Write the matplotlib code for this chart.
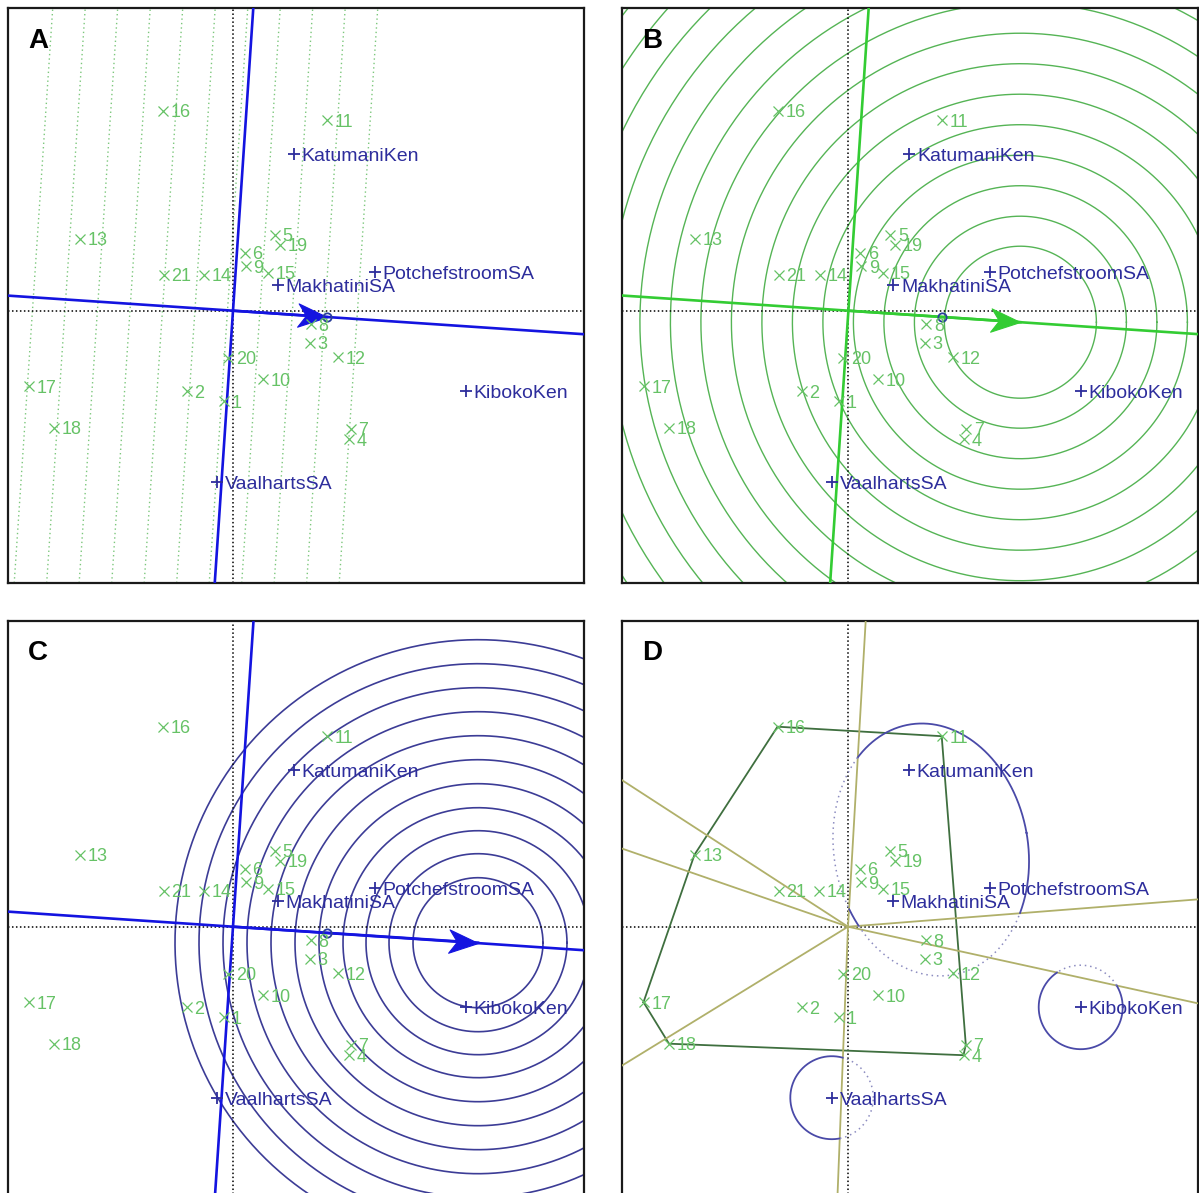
import numpy as np
import matplotlib
matplotlib.use('Agg')
import matplotlib.pyplot as plt
from matplotlib.path import Path
from matplotlib.markers import MarkerStyle
from matplotlib.transforms import Affine2D

plt.rcParams['font.family'] = ['Liberation Sans', 'DejaVu Sans']

# ---------------- data (biplot scores, arbitrary units) ----------------
genotypes = [str(i) for i in range(1, 22)]
gen_x = [-9.5, -46.5, 76.5, 115.5, 42, 11.6, 117.8, 78, 12.7, 29.5, 93.7,
         105, -153.5, -28.6, 34.5, -70.5, -204.5, -179, 47, -5, -69.5]
gen_y = [-90.5, -80.5, -32, -128.5, 76, 57.6, -118, -13.5, 44.3, -68.5, 190.5,
         -46.5, 72, 36, 38.2, 200, -75.5, -117, 66, -47, 36]

environments = ['KatumaniKen', 'MakhatiniSA', 'PotchefstroomSA', 'KibokoKen', 'VaalhartsSA']
env_x = [61, 45, 141.5, 232.7, -16.2]
env_y = [157, 26, 38.7, -80.5, -171]

avg_env = [94, -6.3]                 # average environment (small circle)
ideal_genotype = [172, -11.5]        # panel B arrow tip / circle centre
ideal_environment = [245, -16]       # panel C arrow tip / circle centre

# panel A: lines perpendicular to the average-environment axis
rank_line_offsets = [-200.1, -167.7, -135.3, -102.8, -70.4, -38.0, -5.5,
                     26.9, 59.3, 91.7, 124.2]
# panel B / C concentric circle radii
ideal_gen_radii = [76, 106, 136.5, 167, 197.5, 228, 258.5, 289, 319.5, 350,
                   380.5, 411, 441.5, 472, 502.5]
ideal_env_radii = [65, 89, 112, 135, 159, 183, 207, 231, 255, 279, 303]

# panel D: mega-environment regions (centre, width, height, angle)
region_centres = [(83, 77), (232.7, -80.5), (-16.2, -171)]
region_sizes = [(194, 254, 10), (84, 84, 0), (83, 83, 0)]

# ---------------- styling ----------------
GREEN_TXT = '#66c266'
BLUE_TXT = '#2d2d9c'
BLUE_LINE = '#1414e0'
GREEN_LINE = '#33cc33'
W, H = 1199, 1193

fig = plt.figure(figsize=(W / 100, H / 100), dpi=100)

layout = {
    'A': ((8, 8, 584, 583), (233, 310.7)),
    'B': ((622, 8, 1198, 583), (848.4, 310.7)),
    'C': ((8, 620.5, 584, 1196), (233, 926.7)),
    'D': ((622, 620.5, 1198, 1196), (848, 926.7)),
}


def make_ax(letter):
    (L, T, R, B), (ox, oy) = layout[letter]
    ax = fig.add_axes([L / W, 1 - B / H, (R - L) / W, (B - T) / H])
    ax.set_xlim(L - ox, R - ox)
    ax.set_ylim(oy - B, oy - T)
    ax.set_xticks([])
    ax.set_yticks([])
    for s in ax.spines.values():
        s.set_linewidth(1.6)
        s.set_color('#1a1a1a')
    ax.text(0.035, 0.931, letter, transform=ax.transAxes, fontsize=20,
            fontweight='bold', va='baseline', ha='left', color='black', zorder=10)
    ax.axhline(0, color='black', ls=(0, (1, 1.6)), lw=1.1, zorder=2)
    ax.axvline(0, color='black', ls=(0, (1, 1.6)), lw=1.1, zorder=2)
    return ax


def draw_points(ax):
    ax.plot(gen_x, gen_y, ls='none', marker='x', ms=6.5, mew=0.9,
            color=GREEN_TXT, zorder=6)
    for g, x, y in zip(genotypes, gen_x, gen_y):
        ax.annotate(g, (x, y), xytext=(5.5, -4.6), textcoords='offset points',
                    fontsize=13, color=GREEN_TXT, ha='left', va='baseline', zorder=7)
    ax.plot(env_x, env_y, ls='none', marker='+', ms=9, mew=1.3,
            color=BLUE_TXT, zorder=6)
    for e, x, y in zip(environments, env_x, env_y):
        ax.annotate(e, (x, y), xytext=(5.5, -5), textcoords='offset points',
                    fontsize=14, color=BLUE_TXT, ha='left', va='baseline', zorder=7)


def axis_lines(ax, color):
    u = np.array(avg_env, float)
    perp = np.array([-u[1], u[0]])
    ax.axline((0, 0), (u[0], u[1]), color=color, lw=1.9, zorder=4)
    ax.axline((0, 0), (perp[0], perp[1]), color=color, lw=1.9, zorder=4)


# swept-back (stealth) arrow head marker, tip at the marker anchor
HEAD = Path([(0, 0), (-2, 0.8), (-1.45, 0), (-2, -0.8), (0, 0)],
            [Path.MOVETO, Path.LINETO, Path.LINETO, Path.LINETO, Path.CLOSEPOLY])


def arrow(ax, tip, color):
    ax.plot([0, tip[0]], [0, tip[1]], color=color, lw=1.9, zorder=5)
    ang = np.degrees(np.arctan2(tip[1], tip[0]))
    m = MarkerStyle(HEAD, transform=Affine2D().rotate_deg(ang))
    ax.plot([tip[0]], [tip[1]], ls='none', marker=m, ms=42, color=color,
            mec=color, mew=0.8, zorder=5)


def avg_marker(ax):
    ax.plot([avg_env[0]], [avg_env[1]], ls='none', marker='o', ms=6, mfc='none',
            mec='#2a3f9a', mew=1.3, zorder=6)


# ---------------- Panel A ----------------
axA = make_ax('A')
u = np.array(avg_env, float)
u = u / np.hypot(*u)
perp = np.array([-u[1], u[0]])
for d in rank_line_offsets:
    p = d * u
    axA.axline((p[0], p[1]), (p[0] + perp[0], p[1] + perp[1]),
               color='#7cc77c', ls=(0, (1, 2.2)), lw=1.0, zorder=1)
axis_lines(axA, BLUE_LINE)
arrow(axA, avg_env, BLUE_LINE)
avg_marker(axA)
draw_points(axA)

# ---------------- Panel B ----------------
axB = make_ax('B')
t = np.linspace(0, 2 * np.pi, 400)
for r in ideal_gen_radii:
    axB.plot(ideal_genotype[0] + r * np.cos(t), ideal_genotype[1] + r * np.sin(t),
             color='#55b455', lw=1.0, zorder=1)
axis_lines(axB, GREEN_LINE)
arrow(axB, ideal_genotype, GREEN_LINE)
avg_marker(axB)
draw_points(axB)

# ---------------- Panel C ----------------
axC = make_ax('C')
for r in ideal_env_radii:
    axC.plot(ideal_environment[0] + r * np.cos(t), ideal_environment[1] + r * np.sin(t),
             color='#3c3c96', lw=1.2, zorder=1)
axis_lines(axC, BLUE_LINE)
arrow(axC, ideal_environment, BLUE_LINE)
avg_marker(axC)
draw_points(axC)

# ---------------- Panel D ----------------
axD = make_ax('D')
pts = sorted(set(zip(gen_x, gen_y)))


def cross(o, a, b):
    return (a[0] - o[0]) * (b[1] - o[1]) - (a[1] - o[1]) * (b[0] - o[0])


lower, upper = [], []
for p in pts:
    while len(lower) >= 2 and cross(lower[-2], lower[-1], p) <= 0:
        lower.pop()
    lower.append(p)
for p in reversed(pts):
    while len(upper) >= 2 and cross(upper[-2], upper[-1], p) <= 0:
        upper.pop()
    upper.append(p)
hull = lower[:-1] + upper[:-1]          # counter-clockwise
hx = [p[0] for p in hull] + [hull[0][0]]
hy = [p[1] for p in hull] + [hull[0][1]]
axD.plot(hx, hy, color='#3f6f3f', lw=1.3, zorder=3)

ray_angles = []
for i in range(len(hull)):
    a = np.array(hull[i]); b = np.array(hull[(i + 1) % len(hull)])
    e = b - a
    n = np.array([e[1], -e[0]])
    n = n / np.hypot(*n)
    ray_angles.append(np.arctan2(n[1], n[0]))
    axD.plot([0, n[0] * 1200], [0, n[1] * 1200], color='#b0b06a', lw=1.3, zorder=3)
ray_angles = np.sort(np.array(ray_angles))


def sector(x, y):
    return np.searchsorted(ray_angles, np.arctan2(y, x)) % len(ray_angles)


tt = np.linspace(0, 2 * np.pi, 1441)
for (cx, cy), (w, h, ang) in zip(region_centres, region_sizes):
    th = np.deg2rad(ang)
    ex = w / 2 * np.cos(tt); ey = h / 2 * np.sin(tt)
    px = cx + ex * np.cos(th) - ey * np.sin(th)
    py = cy + ex * np.sin(th) + ey * np.cos(th)
    own = sector(cx, cy)
    mask = sector(px, py) == own
    axD.plot(np.where(mask, px, np.nan), np.where(mask, py, np.nan),
             color='#4a4aa8', lw=1.3, zorder=4)
    axD.plot(np.where(~mask, px, np.nan), np.where(~mask, py, np.nan),
             color='#8c8cc0', lw=1.1, ls=(0, (1, 2.5)), zorder=4)
draw_points(axD)

fig.savefig('out.png', dpi=100)
